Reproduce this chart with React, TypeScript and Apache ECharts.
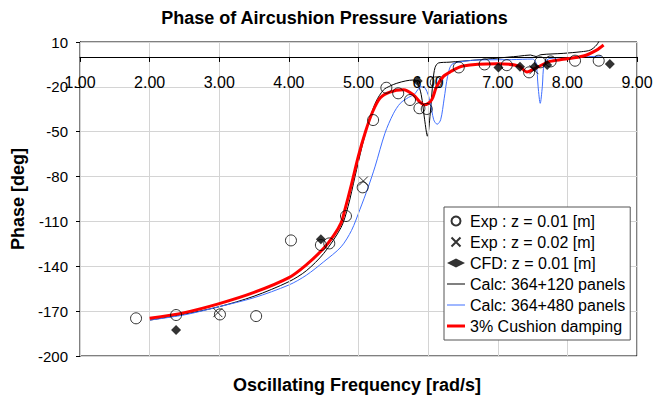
import { useEffect, useRef } from "react";
import * as echarts from "echarts";

const TITLE = "Phase of Aircushion Pressure Variations";
const X_NAME = "Oscillating Frequency [rad/s]";
const Y_NAME = "Phase [deg]";

const X_MIN = 1;
const X_MAX = 9;
const Y_MIN = -200;
const Y_MAX = 10;
const Y_STEP = 30;

const NAMES = [
  "Exp : z = 0.01 [m]",
  "Exp : z = 0.02 [m]",
  "CFD: z = 0.01 [m]",
  "Calc: 364+120 panels",
  "Calc: 364+480 panels",
  "3% Cushion damping",
];

const expZ001: [number, number][] = [
  [1.805, -174.8], [2.38, -172.6], [3.01, -172.2], [3.53, -173.3],
  [4.03, -122.7], [4.46, -125.8], [4.58, -124.7], [4.82, -106.4],
  [5.06, -87.2], [5.21, -42.2], [5.4, -20.6], [5.57, -24.3],
  [5.74, -28.8], [5.875, -34.3], [5.98, -34.8], [6.11, -17],
  [6.44, -7], [6.81, -5], [7.13, -5.5], [7.45, -10.3],
  [7.61, -3.6], [7.76, -3], [8.11, -2.5], [8.45, -2.5],
];

const expZ002: [number, number][] = [
  [2.98, -171], [5.07, -83], [7.52, -8.5],
];

const cfdZ001: [number, number][] = [
  [2.38, -182.6], [4.46, -122], [5.85, -16], [7.01, -7],
  [7.32, -6.5], [7.53, -6.5], [7.71, -5.4], [8.61, -4.7],
];

const calc120: [number, number][] = [
  [2.0, -176], [2.5, -172], [3.0, -167], [3.5, -160], [4.0, -150.3],
  [4.25, -143], [4.5, -131.4], [4.75, -114], [4.85, -100], [4.95, -80],
  [5.05, -60], [5.15, -43], [5.25, -30], [5.36, -22], [5.45, -19.5],
  [5.55, -17.6], [5.68, -16], [5.79, -15.4], [5.84, -16.5], [5.9, -25],
  [5.95, -42], [5.99, -53], [6.03, -38], [6.07, -16], [6.1, -7],
  [6.15, -4], [6.3, -3.5], [6.7, -2], [6.99, -0.8], [7.3, 0.5],
  [7.47, 1.3], [7.55, 0.3], [7.62, 1.5], [7.94, 2.4], [8.2, 3.5],
  [8.33, 4.6], [8.42, 8], [8.47, 12],
];

const calc480: [number, number][] = [
  [2.0, -176], [2.5, -172.5], [3.0, -167], [3.5, -161], [4.0, -152.5],
  [4.25, -146], [4.5, -137], [4.75, -127], [4.9, -116], [5.02, -102],
  [5.14, -87], [5.24, -73], [5.38, -51], [5.5, -38], [5.6, -31],
  [5.72, -27], [5.8, -25], [5.9, -20], [5.96, -21], [6.03, -30],
  [6.08, -42], [6.13, -45], [6.18, -42], [6.23, -28], [6.28, -13],
  [6.34, -5], [6.5, -3], [6.75, -2], [7.2, -1.8], [7.5, -1.4],
  [7.55, -4], [7.58, -20], [7.61, -31], [7.64, -20], [7.67, -4],
  [7.75, -1], [8.1, -0.3], [8.49, 0.6],
];

const damping3: [number, number][] = [
  [2.0, -174.8], [2.5, -171], [3.0, -165], [3.5, -157.5], [4.0, -147.6],
  [4.25, -139], [4.5, -128], [4.65, -119], [4.75, -111], [4.8, -103],
  [4.9, -85], [5.0, -66], [5.1, -50], [5.2, -37], [5.31, -27.5],
  [5.45, -23.5], [5.645, -22], [5.79, -25.4], [5.88, -30], [5.95, -32],
  [6.05, -28.8], [6.12, -20], [6.22, -13], [6.32, -9.9], [6.5, -6],
  [6.99, -4.5], [7.3, -6], [7.42, -10], [7.56, -7], [7.75, -3],
  [7.94, -1.6], [8.23, 0.6], [8.42, 4.6], [8.52, 8],
];

const FONT = "Arial, 'Liberation Sans', sans-serif";

const ICON_THIN = "path://M0,0M18,9M0,4L18,4L18,5L0,5Z";
const ICON_THICK = "path://M0,0M18,9M0,3L18,3L18,6L0,6Z";

// plot geometry
const GRID_TOP = 42;
const GRID_BOTTOM = 40;
const GRID_H = 396 - GRID_TOP - GRID_BOTTOM;
// distance from the top edge (Y_MAX) to the zero line, in pixels
const ZERO_OFFSET = (Y_MAX / (Y_MAX - Y_MIN)) * GRID_H;

export default function App() {
  const ref = useRef<HTMLDivElement>(null);
  useEffect(() => {
    const chart = echarts.init(ref.current!, null, { renderer: "svg" });
    chart.setOption({
      animation: false,
      backgroundColor: "#fff",
      textStyle: { fontFamily: FONT },
      title: {
        text: TITLE,
        left: "center",
        top: 9,
        padding: 0,
        textStyle: { fontFamily: FONT, fontSize: 18, fontWeight: "bold", color: "#000" },
      },
      grid: {
        left: 80,
        right: 32,
        top: GRID_TOP,
        bottom: GRID_BOTTOM,
        show: true,
        borderColor: "#000",
        borderWidth: 1,
        backgroundColor: "transparent",
      },
      legend: {
        orient: "vertical",
        left: 444,
        top: 207,
        padding: [6, 5, 6, 3],
        itemGap: 5,
        itemWidth: 18,
        itemHeight: 9,
        backgroundColor: "#fff",
        borderColor: "#555",
        borderWidth: 1,
        textStyle: { fontFamily: FONT, fontSize: 16, lineHeight: 16, color: "#000" },
        data: [
          { name: NAMES[0] },
          { name: NAMES[1] },
          { name: NAMES[2] },
          { name: NAMES[3], icon: ICON_THIN },
          { name: NAMES[4], icon: ICON_THIN },
          { name: NAMES[5], icon: ICON_THICK },
        ],
      },
      graphic: [
        {
          type: "text",
          x: 357,
          y: 385,
          style: {
            text: X_NAME,
            fill: "#000",
            font: `bold 18px ${FONT}`,
            textAlign: "center",
            textVerticalAlign: "middle",
            align: "center",
            verticalAlign: "middle",
          },
        },
      ],
      xAxis: {
        type: "value",
        min: X_MIN,
        max: X_MAX,
        interval: 1,
        position: "top",
        offset: -ZERO_OFFSET,
        axisLine: { onZero: false, lineStyle: { color: "#000", width: 1 } },
        axisTick: { show: true, inside: true, length: 5, lineStyle: { color: "#000" } },
        axisLabel: {
          inside: true,
          formatter: (v: number) => v.toFixed(2),
          fontSize: 16,
          color: "#000",
          margin: 18,
          showMinLabel: true,
          showMaxLabel: true,
          fontFamily: FONT,
        },
        splitLine: { show: true, lineStyle: { color: "#d4d4d4", width: 1 } },
        z: 3,
      },
      yAxis: {
        type: "value",
        min: Y_MIN,
        max: Y_MAX,
        interval: Y_STEP,
        axisLine: { show: true, onZero: false, lineStyle: { color: "#000" } },
        axisTick: { show: true, length: 4, lineStyle: { color: "#000" } },
        axisLabel: { fontSize: 15, color: "#000", margin: 12, fontFamily: FONT },
        splitLine: { show: true, lineStyle: { color: "#d4d4d4", width: 1 } },
        name: Y_NAME,
        nameLocation: "middle",
        nameRotate: 90,
        nameGap: 43,
        nameTextStyle: { fontFamily: FONT, fontSize: 18, fontWeight: "bold", color: "#000" },
      },
      series: [
        {
          name: NAMES[3],
          type: "line",
          data: calc120,
          symbol: "none",
          smooth: 0.3,
          lineStyle: { color: "#000", width: 1 },
          itemStyle: { color: "#000" },
          z: 2,
        },
        {
          name: NAMES[4],
          type: "line",
          data: calc480,
          symbol: "none",
          smooth: 0.3,
          lineStyle: { color: "#3f6fff", width: 1 },
          itemStyle: { color: "#3f6fff" },
          z: 2,
        },
        {
          name: NAMES[5],
          type: "line",
          data: damping3,
          symbol: "none",
          smooth: 0.3,
          lineStyle: { color: "#ff0000", width: 3 },
          itemStyle: { color: "#ff0000" },
          z: 3,
        },
        {
          name: NAMES[0],
          type: "scatter",
          data: expZ001,
          symbol: "circle",
          symbolSize: 11,
          itemStyle: { color: "transparent", borderColor: "#000", borderWidth: 1 },
          z: 4,
        },
        {
          name: NAMES[1],
          type: "scatter",
          data: expZ002,
          symbol: "path://M0,0L10,10M10,0L0,10",
          symbolSize: 9,
          itemStyle: { color: "transparent", borderColor: "#000", borderWidth: 1 },
          z: 4,
        },
        {
          name: NAMES[2],
          type: "scatter",
          data: cfdZ001,
          symbol: "diamond",
          symbolSize: 10,
          itemStyle: { color: "#000" },
          z: 5,
        },
      ],
    });
    return () => chart.dispose();
  }, []);
  return (
    <div
      ref={ref}
      style={{ position: "absolute", left: 0, top: 0, width: 669, height: 396 }}
    />
  );
}
